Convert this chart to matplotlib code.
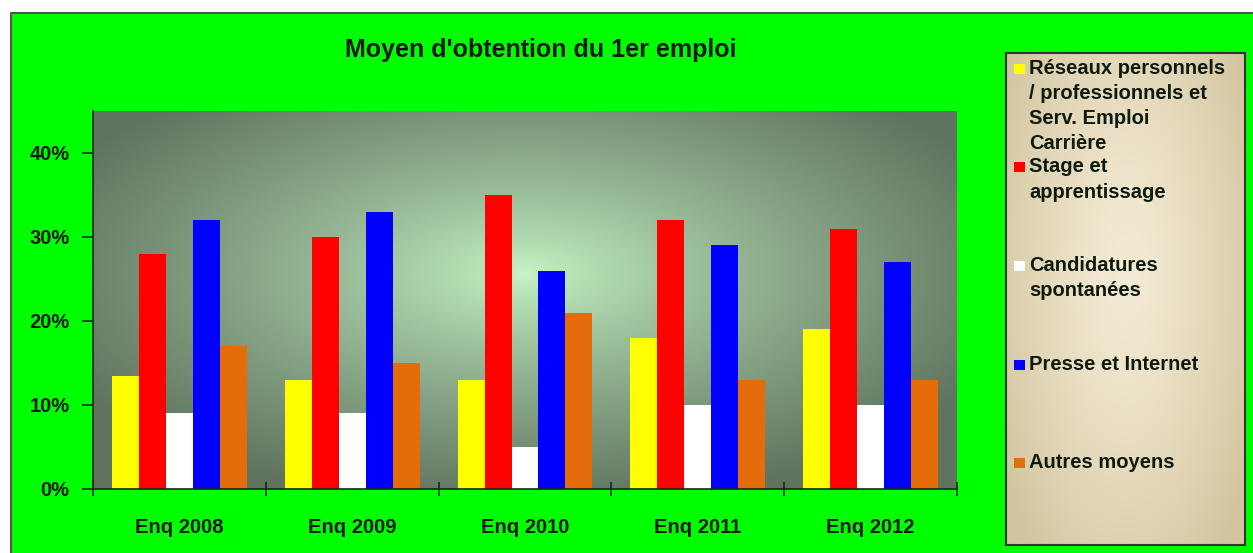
import numpy as np
import matplotlib
matplotlib.use("Agg")
import matplotlib.pyplot as plt
from matplotlib.patches import Rectangle
from matplotlib.lines import Line2D
from matplotlib.ticker import FixedLocator, FuncFormatter

plt.rcParams['font.family'] = ['Liberation Sans', 'DejaVu Sans']
plt.rcParams['font.weight'] = 'bold'

# ---------------------------------------------------------------------------
# Data (percentages)
# ---------------------------------------------------------------------------
categories = ["Enq 2008", "Enq 2009", "Enq 2010", "Enq 2011", "Enq 2012"]
series_names = [
    "Réseaux personnels\n/ professionnels et\nServ. Emploi\nCarrière",
    "Stage et\napprentissage",
    "Candidatures\nspontanées",
    "Presse et Internet",
    "Autres moyens",
]
reseaux = [13.5, 13, 13, 18, 19]
stage = [28, 30, 35, 32, 31]
candidatures = [9, 9, 5, 10, 10]
presse = [32, 33, 26, 29, 27]
autres = [17, 15, 21, 13, 13]
y_ticks = [0, 10, 20, 30, 40]

series = [reseaux, stage, candidatures, presse, autres]
colors = ["#ffff00", "#ff0000", "#ffffff", "#0000ff", "#e46c0a"]
text_col = "#0d1a0d"


def gradient(n, cx, cy, rx, ry, c_in, c_out, power=1.0):
    yy, xx = np.mgrid[0:1:n * 1j, 0:1:n * 1j]
    r = np.sqrt(((xx - cx) / rx) ** 2 + ((yy - cy) / ry) ** 2)
    t = np.clip(r, 0, 1) ** power
    c_in = np.array(matplotlib.colors.to_rgb(c_in))
    c_out = np.array(matplotlib.colors.to_rgb(c_out))
    return c_in[None, None, :] * (1 - t[..., None]) + c_out[None, None, :] * t[..., None]


W, H = 1253, 553
fig = plt.figure(figsize=(W / 100, H / 100), dpi=100)
fig.patch.set_facecolor("white")

# green chart area, border only on the visible top and left edges
x_left, y_top = 11 / W, 1 - 13 / H
fig.add_artist(Rectangle((x_left, 0), 1 - x_left, y_top,
                         transform=fig.transFigure, facecolor="#00ff00",
                         edgecolor="none", zorder=-10))
fig.add_artist(Line2D([x_left, x_left, 1], [0, y_top, y_top],
                      transform=fig.transFigure, color="#4a5a4a", lw=1.5,
                      zorder=-9))

ax = fig.add_axes([93 / W, 1 - 489 / H, (957 - 93) / W, (489 - 111) / H])
ax.set_facecolor("none")
ax.set_xlim(-0.5, len(categories) - 0.5)
ax.set_ylim(0, 45)

bg = gradient(300, 0.5, 0.57, 0.6, 0.62, "#c8f6c6", "#5f735f", power=0.8)
ax.imshow(bg, extent=[-0.5, len(categories) - 0.5, 0, 45], origin="lower",
          aspect="auto", zorder=0, interpolation="bilinear")

x = np.arange(len(categories))
n = len(series)
bw = 0.156
for i, (vals, col) in enumerate(zip(series, colors)):
    ax.bar(x + (i - (n - 1) / 2) * bw, vals, width=bw, color=col,
           zorder=2, linewidth=0)

for side in ["top", "right"]:
    ax.spines[side].set_visible(False)
for side in ["left", "bottom"]:
    ax.spines[side].set_color("#1a261a")
    ax.spines[side].set_linewidth(1.2)
    ax.spines[side].set_zorder(3)

ax.yaxis.set_major_locator(FixedLocator(y_ticks))
ax.yaxis.set_major_formatter(FuncFormatter(lambda v, p: f"{v:.0f}%"))
ax.tick_params(axis="y", direction="out", length=8, width=1.2,
               color="#1a261a", pad=9, labelsize=14.5, labelcolor=text_col)

ax.xaxis.set_major_locator(FixedLocator(np.arange(len(categories) + 1) - 0.5))
ax.xaxis.set_major_formatter(FuncFormatter(lambda v, p: ""))
ax.xaxis.set_minor_locator(FixedLocator(x))
ax.set_xticklabels(categories, minor=True)
ax.tick_params(axis="x", which="major", direction="inout", length=10,
               width=1.2, color="#1a261a")
ax.tick_params(axis="x", which="minor", length=0, pad=21, labelsize=14.5,
               labelcolor=text_col)

fig.text((343 + 738) / 2 / W, 1 - 50 / H, "Moyen d'obtention du 1er emploi",
         ha="center", va="center", fontsize=18, fontweight="bold",
         color=text_col)

# legend box
lx0, ly0, lx1, ly1 = 1006, 53, 1245, 545
lax = fig.add_axes([lx0 / W, 1 - ly1 / H, (lx1 - lx0) / W, (ly1 - ly0) / H])
lbg = gradient(200, 0.5, 0.55, 0.6, 0.75, "#f4ebd5", "#d3c59f", power=1.3)
lax.imshow(lbg, extent=[0, 1, 0, 1], origin="lower", aspect="auto",
           interpolation="bilinear")
lax.set_xlim(0, 1)
lax.set_ylim(0, 1)
lax.set_xticks([])
lax.set_yticks([])
for s in lax.spines.values():
    s.set_color("#2d3a2d")
    s.set_linewidth(1.5)

lh = ly1 - ly0
first = 69 - ly0
step = 98.5
for i, (name, col) in enumerate(zip(series_names, colors)):
    yc = 1 - (first + i * step) / lh
    lax.add_patch(Rectangle((8 / 239, yc - 5 / lh), 11 / 239, 10 / lh,
                            facecolor=col, edgecolor="none", zorder=3))
    lax.text(23 / 239, yc + 10 / lh, name, ha="left", va="top",
             fontsize=14.5, fontweight="bold", color=text_col,
             linespacing=1.4, zorder=3)

fig.savefig("out.png", dpi=100)
